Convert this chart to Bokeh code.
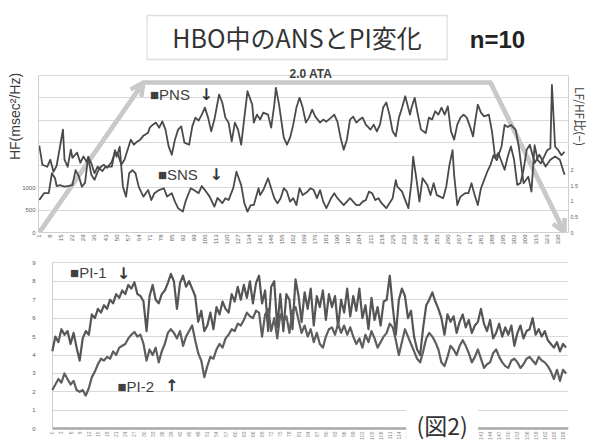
import math
from bokeh.plotting import figure
from bokeh.models import (LinearAxis, Range1d, FixedTicker, Label, Arrow, OpenHead,
                          Grid, BoxAnnotation, NumeralTickFormatter)
from bokeh.layouts import column
from bokeh.embed import file_html
from bokeh.resources import INLINE
from bokeh.core.properties import value

# ---------------- data ----------------
title_text = "HBO中のANSとPI変化"
n_text = "n=10"
fig_note = "\u00a0\u00a0(図2)\u00a0\u00a0"
hf_axis_title = "HF(msec²/Hz)"
ratio_axis_title = "LF/HF比(−)"

# top chart: categories (measurement no.) and values
top_ticks = list(range(1, 331, 7))
hf_ticks = [0, 500, 1000]
hf_grid = [0, 500, 1000, 1500, 2000, 2500, 3000, 3500]
ratio_ticks = [0, 0.5, 1, 1.5, 2]

hf_cat = [1, 3, 6, 8, 10, 12, 14, 16, 17, 19,
          21, 22, 25, 27, 29, 31, 32, 34, 36, 38,
          40, 42, 44, 47, 49, 51, 53, 55, 57, 59,
          61, 63, 65, 67, 70, 71, 73, 75, 77, 79,
          81, 83, 85, 87, 89, 91, 93, 96, 98, 100,
          102, 104, 106, 108, 110, 112, 115, 117, 119, 121,
          123, 125, 127, 129, 131, 133, 136, 137, 139, 141,
          143, 146, 148, 150, 151, 153, 156, 158, 160, 162,
          164, 166, 168, 170, 172, 174, 176, 179, 181, 183,
          186, 188, 190, 192, 194, 196, 198, 200, 202, 204,
          206, 208, 211, 213, 215, 217, 219, 221, 223, 225,
          227, 229, 231, 233, 236, 237, 239, 241, 243, 246,
          248, 250, 252, 254, 256, 258, 260, 262, 264, 266,
          268, 270, 272, 274, 276, 277, 279, 281, 283, 286,
          288, 290, 292, 296, 298, 300, 302, 304, 306, 308,
          310, 312, 315, 318, 322, 325, 328, 331, 334]
hf_val = [1930, 1505, 1461, 1617, 1349, 1483, 1884, 2286, 1617, 1461,
          1840, 1661, 1773, 1550, 1690, 1572, 1661, 1282, 1171, 1349,
          1461, 1505, 1438, 1572, 1795, 1728, 1505, 1617, 1840, 2063,
          1951, 2018, 2063, 2152, 2219, 2330, 2397, 2442, 2330, 2471,
          2286, 1913, 1728, 2063, 2286, 2359, 1996, 1951, 2359, 2553,
          2486, 2620, 2776, 2553, 2248, 2509, 3066, 2888, 2553, 2442,
          2025, 2442, 2286, 1951, 2553, 3140, 2843, 2442, 2620, 2509,
          2665, 2620, 2330, 2843, 3216, 2843, 2107, 1951, 2107, 2397,
          2776, 2993, 2776, 2442, 2553, 2732, 2576, 2442, 2509, 2464,
          2553, 2620, 2464, 2107, 1840, 2063, 2509, 2576, 2442, 2509,
          2553, 2397, 2286, 2397, 2248, 2397, 2776, 2888, 2620, 2248,
          2136, 2553, 2776, 3028, 2620, 2776, 2993, 2620, 2286, 2212,
          2553, 2509, 2694, 2620, 2776, 2620, 2805, 2248, 2063, 2397,
          2553, 2620, 2553, 2359, 2136, 2397, 2843, 2665, 2582, 2620,
          2248, 1661, 1766, 1394, 1690, 1913, 1617, 1059, 1097, 1394,
          1840, 1951, 1543, 1728, 1467, 1617, 1690, 1617, 1282]

lfhf_cat = [1, 4, 7, 9, 11, 12, 14, 17, 19, 22,
            24, 26, 28, 30, 32, 34, 36, 38, 41, 43,
            47, 49, 50, 52, 54, 56, 58, 60, 62, 64,
            67, 70, 72, 74, 77, 80, 82, 85, 87, 89,
            92, 94, 97, 99, 102, 104, 106, 109, 112, 114,
            117, 119, 121, 124, 126, 129, 131, 133, 135, 137,
            140, 141, 143, 146, 148, 150, 152, 154, 156, 158,
            160, 162, 164, 166, 168, 171, 173, 175, 177, 179,
            181, 183, 186, 188, 190, 192, 194, 196, 198, 200,
            202, 204, 206, 208, 210, 212, 214, 216, 218, 221,
            223, 225, 227, 228, 231, 233, 235, 237, 238, 240,
            242, 244, 247, 249, 251, 253, 255, 257, 259, 261,
            263, 264, 266, 268, 271, 273, 275, 277, 279, 281,
            283, 285, 287, 289, 291, 294, 296, 298, 300, 303,
            305, 308, 311, 313, 315, 317, 319, 323, 325, 326,
            328, 330, 332, 334]
lfhf_val = [1.04, 1.26, 1.26, 1.9, 1.74, 1.49, 1.52, 1.47, 1.49, 1.52,
            2.0, 1.81, 1.47, 1.59, 2.43, 2.22, 1.9, 2.11, 1.97, 2.11,
            2.11, 2.64, 2.43, 2.75, 1.47, 1.15, 1.9, 2.0, 1.9, 1.47,
            1.15, 1.36, 1.04, 1.26, 1.36, 1.42, 1.15, 1.26, 0.99, 0.78,
            0.67, 1.04, 1.42, 1.36, 1.26, 1.49, 1.36, 1.15, 0.83, 1.11,
            0.94, 1.1, 1.04, 1.43, 1.95, 1.52, 0.94, 0.67, 0.88, 0.88,
            1.42, 1.2, 1.36, 1.74, 1.42, 1.1, 0.94, 1.1, 1.42, 1.31,
            0.99, 1.1, 0.88, 1.42, 1.2, 1.31, 1.42, 1.36, 1.1, 1.36,
            0.99, 0.78, 1.1, 1.26, 1.1, 0.99, 0.88, 0.99, 1.1, 0.99,
            0.88, 0.88, 0.99, 1.04, 1.31, 1.26, 1.04, 1.1, 0.94, 0.78,
            0.94, 1.1, 1.68, 1.47, 1.31, 1.04, 0.78, 1.63, 2.43, 1.74,
            0.99, 1.74, 1.52, 1.2, 1.58, 1.2, 1.15, 1.1, 1.47, 2.16,
            2.64, 1.84, 0.88, 1.15, 1.26, 1.26, 1.58, 1.2, 0.88, 1.42,
            1.68, 1.95, 2.16, 2.48, 2.32, 2.75, 3.45, 3.38, 3.45, 3.29,
            2.75, 1.58, 1.79, 1.31, 2.8, 2.32, 2.22, 2.64, 2.7, 4.73,
            2.75, 2.64, 2.48, 2.59]

# chamber pressure profile (compression, 2.0 ATA hold, decompression)
ata_time = [1, 67, 287, 334]
ata_level = [1.0, 2.0, 2.0, 1.0]

# bottom chart: PI-1 / PI-2
pi1 = [4.2, 5.0, 4.7, 5.4, 5.1, 5.3, 4.6, 5.2, 4.4, 3.7,
       4.9, 5.3, 5.1, 6.2, 6.0, 6.5, 6.3, 6.7, 6.5, 7.0,
       6.8, 7.3, 7.1, 7.5, 7.3, 7.8, 7.6, 7.95, 7.3, 7.2,
       6.9, 5.3, 7.2, 7.8, 7.0, 6.8, 7.3, 7.5, 7.9, 8.4,
       8.0, 6.5, 7.9, 8.3, 7.7, 8.0, 7.6, 7.2, 5.8, 6.4,
       5.3, 5.6, 6.3, 5.4, 6.6, 6.2, 6.9, 6.5, 6.3, 7.3,
       6.9, 7.7, 7.0, 7.8, 7.1, 8.0, 6.8, 7.9, 8.3, 6.8,
       7.5, 5.3, 7.7, 8.0, 5.5, 7.3, 5.3, 7.3, 7.0, 5.4,
       8.1, 7.2, 5.8, 7.4, 6.5, 7.6, 5.6, 7.2, 6.6, 7.5,
       5.9, 7.3, 6.6, 7.2, 5.5, 7.0, 6.3, 7.6, 6.1, 7.2,
       6.4, 7.6, 6.0, 6.7, 5.4, 7.1, 5.9, 6.6, 5.6, 6.9,
       7.0, 8.3, 6.6, 5.1, 7.0, 7.6, 7.2, 6.0, 6.4, 5.0,
       4.3, 4.0, 5.5, 6.7, 7.0, 7.4, 6.9, 6.5, 6.0, 5.1,
       6.2, 5.8, 6.1, 5.2, 5.8, 6.2, 5.5, 5.9, 5.2, 5.6,
       5.8, 6.5, 5.7, 5.3, 5.9, 4.9, 5.2, 5.7, 5.0, 5.5,
       5.1, 5.6, 4.5, 5.2, 5.6, 4.9, 5.3, 5.4, 6.0, 5.1,
       5.4, 5.0, 5.3, 4.8, 4.6, 4.4, 4.7, 4.2, 4.6, 4.4]
pi2 = [2.1, 2.4, 2.7, 2.5, 3.0, 2.7, 2.4, 2.6, 2.1, 2.0,
       2.1, 1.8, 2.2, 2.8, 3.1, 3.5, 3.8, 3.7, 3.9, 3.8,
       4.2, 4.0, 4.4, 4.5, 4.6, 4.9, 5.1, 5.25, 5.0, 5.1,
       4.6, 3.7, 4.3, 4.0, 4.4, 3.6, 4.2, 4.6, 5.2, 5.4,
       5.2, 4.9, 5.3, 4.5, 5.0, 5.3, 5.6, 4.8, 4.1, 3.7,
       2.8, 3.4, 3.9, 3.8, 4.3, 4.6, 4.4, 4.9, 5.1, 5.4,
       5.3, 5.7, 5.6, 5.9, 6.3, 6.1, 6.0, 6.4, 6.3, 5.0,
       6.2, 6.5, 5.3, 6.0, 4.9, 6.2, 5.8, 6.1, 5.2, 6.4,
       6.6, 5.9, 5.2, 5.6, 5.0, 5.4, 4.7, 5.2, 4.6, 4.4,
       5.0, 5.4, 5.5, 5.1, 5.7, 5.2, 5.6, 5.1, 5.5, 5.0,
       4.6, 4.9, 4.4, 5.1, 4.7, 5.3, 4.9, 4.4, 4.7, 5.0,
       5.2, 5.7, 5.5, 4.8, 4.0, 4.7, 5.4, 5.0, 4.6, 4.2,
       3.8, 3.6, 4.2, 4.9, 5.2, 5.0, 4.7, 4.3, 3.6, 3.4,
       3.9, 4.5, 4.3, 4.0, 4.5, 4.8, 4.5, 4.1, 3.6, 3.9,
       4.3, 3.8, 3.3, 3.5, 3.6, 4.1, 4.3, 3.9, 3.6, 3.4,
       3.3, 3.7, 3.8, 3.6, 3.3, 3.5, 3.8, 3.9, 3.7, 3.5,
       3.9, 3.7, 3.6, 3.4, 3.1, 2.7, 3.2, 2.6, 3.2, 3.0]
pi_index = list(range(len(pi1)))
pi_ticks = list(range(0, 170, 3))
pi_grid = [1, 2, 3, 4, 5, 6, 7, 8, 9]
pi_labels = list(range(0, 10))

assert len(hf_cat) == len(hf_val)
assert len(lfhf_cat) == len(lfhf_val)
assert len(pi1) == len(pi2)

# ---------------- styling ----------------
W = 592
SANS = "Liberation Sans"
JP = "Noto Sans CJK JP"
ARR_FONT = "DejaVu Sans"
LINE = "#4a4a4a"
GRID = "#d8d8d8"
ARROW = "#c9c9c9"
HAS_CROSS = "cross_bounds" in Grid.properties()


def base(height, xr, yr, **borders):
    p = figure(width=W, height=height, x_range=xr, y_range=yr,
               x_axis_type=None, y_axis_type=None,
               toolbar_location=None, output_backend="svg",
               min_border_left=38, min_border_right=17, **borders)
    p.outline_line_color = None
    p.background_fill_color = "white"
    p.border_fill_color = "white"
    return p


def grid(p, dim, ticks, cross=None, **kw):
    opts = dict(dimension=dim, ticker=FixedTicker(ticks=ticks),
                grid_line_color=GRID)
    opts.update(kw)
    if cross is not None and HAS_CROSS:
        opts["cross_bounds"] = cross
    p.add_layout(Grid(**opts))


def style_axis(ax, size="6px", color="#cfcfcf", standoff=3):
    ax.axis_line_color = color
    ax.major_tick_line_color = None
    ax.minor_tick_line_color = None
    ax.major_tick_out = 0
    ax.major_tick_in = 0
    ax.minor_tick_out = 0
    ax.minor_tick_in = 0
    ax.major_label_text_font = SANS
    ax.major_label_text_font_size = size
    ax.major_label_text_color = "#606060"
    ax.major_label_standoff = standoff


def label(p, x, y, text, size, **kw):
    opts = dict(text_font=SANS, text_color="#404040", text_align="left",
                text_baseline="middle", x_range_name="px", y_range_name="py")
    opts.update(kw)
    p.add_layout(Label(x=x, y=y, text=text, text_font_size=size, **opts))


# ---------------- top chart (with heading) ----------------
top = base(252, Range1d(0.5, 336.5), Range1d(0, 5156),
           min_border_top=0, min_border_bottom=20)
top.extra_y_ranges = {"ratio": Range1d(0, 7.44), "ata": Range1d(1.0, 2.547),
                      "py": Range1d(232, 0)}
top.extra_x_ranges = {"px": Range1d(38, 575)}
grid(top, 1, hf_grid)

ax_l = LinearAxis(ticker=FixedTicker(ticks=hf_ticks), bounds=(0, 3500),
                  axis_label=hf_axis_title)
style_axis(ax_l)
ax_l.axis_label_text_font = SANS
ax_l.axis_label_text_font_size = "14px"
ax_l.axis_label_text_font_style = "normal"
ax_l.axis_label_text_color = "#404040"
ax_l.axis_label_standoff = -4
top.add_layout(ax_l, "left")

ax_r = LinearAxis(y_range_name="ratio", ticker=FixedTicker(ticks=ratio_ticks),
                  formatter=NumeralTickFormatter(format="0.[0]"), bounds=(0, 5.03),
                  axis_label=ratio_axis_title)
style_axis(ax_r, size="5.5px", standoff=2)
ax_r.axis_label_text_font = JP
ax_r.axis_label_text_font_size = "12px"
ax_r.axis_label_text_font_style = "normal"
ax_r.axis_label_text_color = "#404040"
ax_r.axis_label_standoff = -9
top.add_layout(ax_r, "right")

ax_b = LinearAxis(ticker=FixedTicker(ticks=top_ticks),
                  major_label_orientation=math.pi / 2)
style_axis(ax_b, size="6px", standoff=2)
top.add_layout(ax_b, "below")

# heading
top.add_layout(BoxAnnotation(left=148, right=452, top=15, bottom=59,
                             x_range_name="px", y_range_name="py",
                             fill_alpha=0, line_color="#969696", line_width=1.3))
label(top, 300, 36, title_text, "25px", text_font=JP, text_color="#333333",
      text_align="center")
label(top, 503, 39, n_text, "24px", text_font_style="bold", text_color="#222222",
      text_align="center")

# pressure profile arrow
top.line(ata_time, ata_level, y_range_name="ata", line_color=ARROW,
         line_width=4.5, line_join="round", level="underlay")
for a, b in ((0, 1), (2, 3)):
    top.add_layout(Arrow(end=OpenHead(size=13, line_color=ARROW, line_width=4.5),
                         x_start=ata_time[a], y_start=ata_level[a],
                         x_end=ata_time[b], y_end=ata_level[b],
                         y_range_name="ata", line_color=ARROW, line_width=4.5,
                         level="underlay"))

top.line(hf_cat, hf_val, line_color=LINE, line_width=1.8, line_join="round")
top.line(lfhf_cat, lfhf_val, y_range_name="ratio", line_color=LINE,
         line_width=1.8, line_join="round")

label(top, 314, 73, "2.0 ATA", "12px", text_font_style="bold",
      text_align="center")
label(top, 151, 94, "■PNS", "15px")
label(top, 208, 94, "↓", "16px", text_font=ARR_FONT, text_font_style="bold",
      text_align="center", text_color="#333333")
label(top, 159, 174, "■SNS", "15px")
label(top, 218, 174, "↓", "16px", text_font=ARR_FONT, text_font_style="bold",
      text_align="center", text_color="#333333")

# ---------------- bottom chart ----------------
bot = base(189, Range1d(-4.545, 169.8), Range1d(-0.689, 9.559),
           min_border_top=0, min_border_bottom=0)
bot.extra_x_ranges = {"px": Range1d(38, 575)}
bot.extra_y_ranges = {"py": Range1d(441, 252)}
grid(bot, 1, pi_grid, cross=(0, 169.8))
grid(bot, 1, [0], cross=(0, 169.8), grid_line_color="#a8a8a8",
     grid_line_width=2.5)
grid(bot, 0, [0], cross=(0, 9), grid_line_color="#cfcfcf")

bx_l = LinearAxis(ticker=FixedTicker(ticks=pi_labels), bounds=(0, 9))
style_axis(bx_l, color=None, standoff=3)
bot.add_layout(bx_l, "left")

bot.text(x=pi_ticks, y=[-0.15] * len(pi_ticks), text=[str(t) for t in pi_ticks],
         angle=math.pi / 2, text_align="right", text_baseline="middle",
         text_font=value(SANS), text_font_size="5px", text_color="#8a8a8a")

bot.line(pi_index, pi1, line_color="#555555", line_width=2.2, line_join="round")
bot.line(pi_index, pi2, line_color="#5e5e5e", line_width=2.2, line_join="round")

label(bot, 70, 272, "■PI-1", "15px")
label(bot, 124, 273, "↓", "16px", text_font=ARR_FONT, text_font_style="bold",
      text_align="center", text_color="#333333")
label(bot, 118, 386, "■PI-2", "15px")
label(bot, 173, 385, "↑", "16px", text_font=ARR_FONT, text_font_style="bold",
      text_align="center", text_color="#333333")
label(bot, 447, 424, fig_note, "23px", text_font=JP, text_color="#333333",
      text_align="center", background_fill_color="white")

layout = column(top, bot)
with open("out.html", "w", encoding="utf-8") as f:
    f.write(file_html(layout, INLINE, title="HBO ANS PI"))
